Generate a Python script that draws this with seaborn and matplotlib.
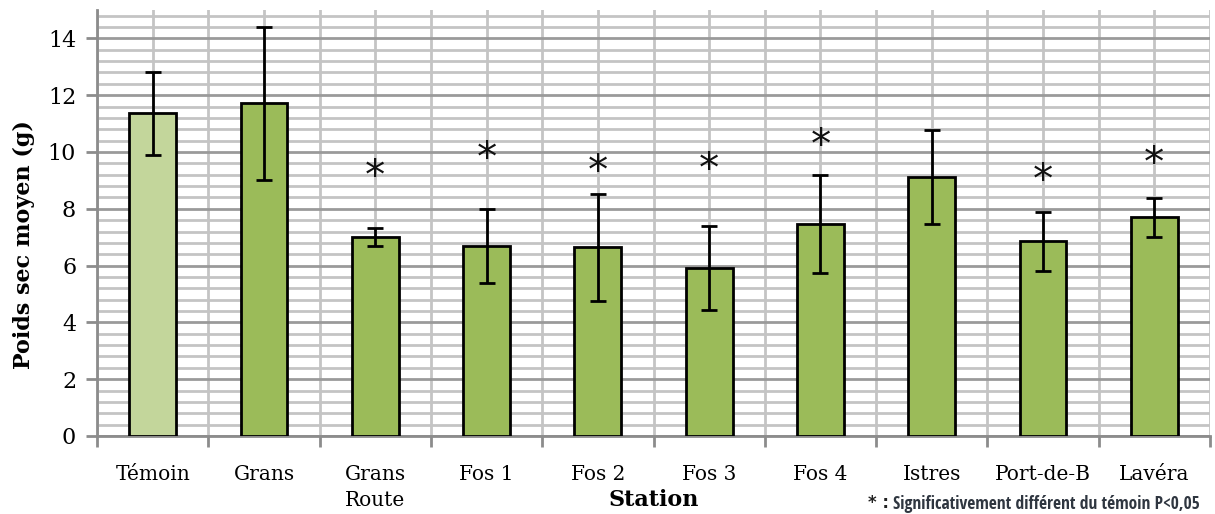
import matplotlib
matplotlib.use('Agg')
import matplotlib.pyplot as plt
import numpy as np
import pandas as pd
import seaborn as sns
from matplotlib import font_manager
from matplotlib.ticker import MultipleLocator

# --- data ---
stations = ['Témoin', 'Grans', 'Grans\nRoute', 'Fos 1', 'Fos 2', 'Fos 3',
            'Fos 4', 'Istres', 'Port-de-B', 'Lavéra']
poids = [11.36, 11.71, 7.00, 6.68, 6.65, 5.91, 7.46, 9.11, 6.86, 7.70]
ecart = [1.45, 2.68, 0.32, 1.30, 1.88, 1.48, 1.73, 1.65, 1.04, 0.68]
# height of the "*" marks (None = not significant)
star_y = [None, None, 9.43, 10.06, 9.62, 9.67, 10.52, None, 9.30, 9.88]

COL_TEMOIN = '#C3D69B'
COL_STATION = '#9BBB59'

df = pd.DataFrame({'station': stations, 'poids': poids, 'ecart': ecart})

# narrow sans for the footnote if one is around
installed = {f.name for f in font_manager.fontManager.ttflist}
note_font, note_size = 'DejaVu Sans', 10
for name in ['Liberation Sans Narrow', 'DejaVu Sans Condensed', 'Open Sans Condensed']:
    if name in installed:
        note_font, note_size = name, 12.5
        break

fig = plt.figure(figsize=(12.15, 5.14), dpi=100)
ax = fig.add_axes([97 / 1215, 1 - 436 / 514, (1210 - 97) / 1215, (436 - 10) / 514])

palette = [COL_TEMOIN] + [COL_STATION] * (len(stations) - 1)
sns.barplot(data=df, x='station', y='poids', hue='station', palette=palette,
            legend=False, errorbar=None, width=0.42, saturation=1,
            edgecolor='black', linewidth=2, ax=ax, zorder=3)

xpos = np.arange(len(stations))
ax.errorbar(xpos, df['poids'], yerr=df['ecart'], fmt='none', ecolor='black',
            elinewidth=2, capsize=5.5, capthick=2, zorder=4)

for i, y in enumerate(star_y):
    if y is not None:
        ax.annotate('*', (i, y), xytext=(0, -7), textcoords='offset points',
                    ha='center', va='center', fontsize=29,
                    family='DejaVu Sans', color='#111111', zorder=5)

ax.set_xlim(-0.5, len(stations) - 0.5)
ax.set_ylim(0, 15)

# grid like the spreadsheet original
ax.yaxis.set_major_locator(MultipleLocator(2))
ax.yaxis.set_minor_locator(MultipleLocator(0.4))
ax.set_xticks(xpos)
ax.set_xticks(np.arange(-0.5, len(stations)), minor=True)
ax.set_axisbelow(True)
ax.grid(which='major', axis='y', color='#9a9a9a', linewidth=2)
ax.grid(which='minor', axis='y', color='#c4c4c4', linewidth=2)
ax.grid(which='both', axis='x', color='#c4c4c4', linewidth=2)

for s in ['top', 'right']:
    ax.spines[s].set_visible(False)
for s in ['left', 'bottom']:
    ax.spines[s].set_color('#8c8c8c')
    ax.spines[s].set_linewidth(2)

ax.tick_params(axis='y', which='major', length=8, width=2, color='#8c8c8c',
               labelsize=16, pad=7)
ax.tick_params(axis='y', which='minor', length=0)
ax.tick_params(axis='x', which='major', length=0, labelsize=14.5, pad=21)
ax.tick_params(axis='x', which='minor', length=8, width=2, color='#8c8c8c')

ax.set_xticklabels(stations, family='DejaVu Serif', linespacing=1.45, va='top')
for lab in ax.get_yticklabels():
    lab.set_family('DejaVu Serif')

ax.set_xlabel('Station', family='DejaVu Serif', fontweight='bold', fontsize=16,
              va='center')
ax.set_ylabel('Poids sec moyen (g)', family='DejaVu Serif', fontweight='bold',
              fontsize=16, va='center')
ax.xaxis.set_label_coords(0.5, -(500 - 436) / 426)
ax.yaxis.set_label_coords(-(97 - 24) / 1113, (436 - 245) / 426)

fig.text(868 / 1215, 1 - 503 / 514, '* :', fontsize=12, fontweight='bold',
         color='#222222', va='center', ha='left', family='DejaVu Sans')
fig.text(893 / 1215, 1 - 504 / 514, 'Significativement différent du témoin P<0,05',
         fontsize=note_size, color='#2f3640', va='center', ha='left',
         family=note_font)

fig.savefig('out.png', dpi=100)
